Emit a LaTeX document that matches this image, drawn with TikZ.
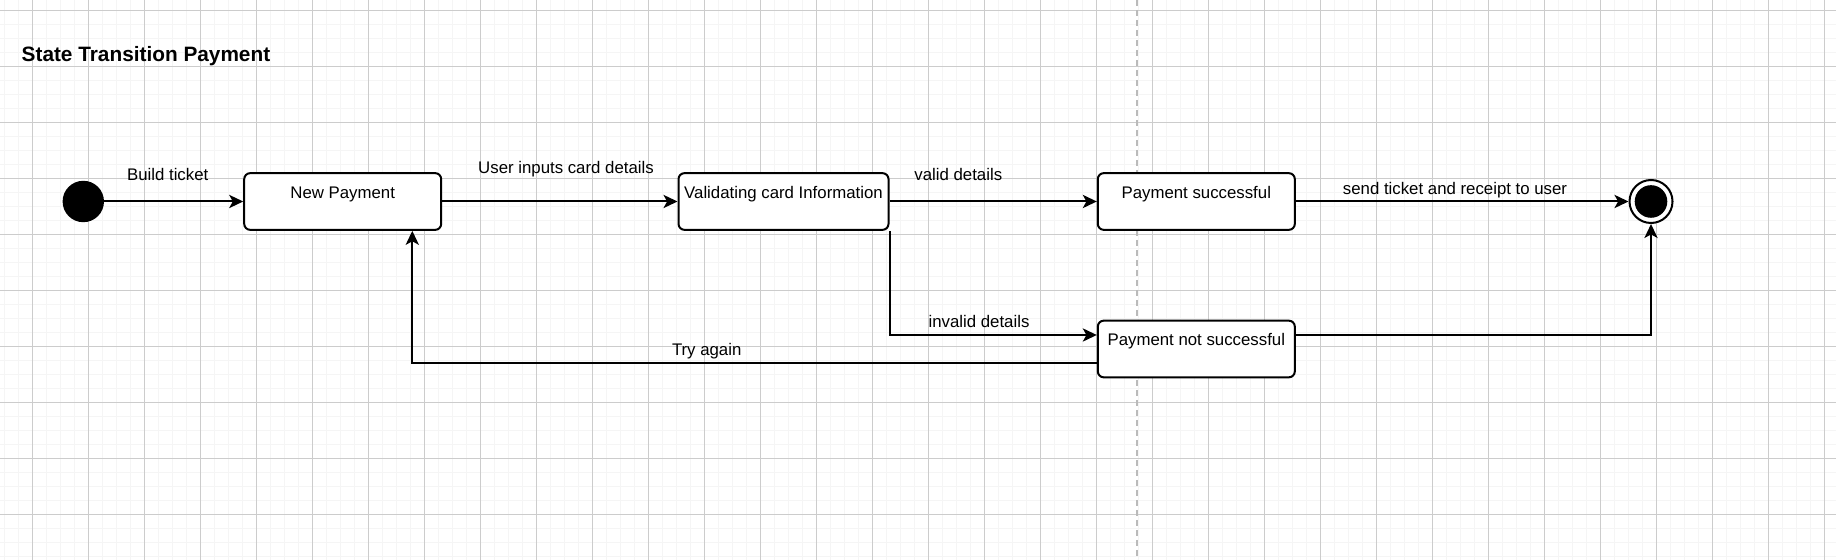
\documentclass[tikz,border=0pt]{standalone}
\usepackage{fontspec}
\setmainfont{Liberation Sans}
\usetikzlibrary{positioning,arrows.meta}

\begin{document}
\begin{tikzpicture}[x=0.5pt, y=-0.5pt,
    minor/.style={draw=black!4, line width=.65pt},
    major/.style={draw=black!20, line width=.55pt},
    st/.style={draw, rounded corners=3pt, line width=1pt, fill=white, minimum width=98.5pt,
      text height=12.5pt, text depth=15.85pt, inner sep=0pt, font=\fontsize{8.4}{10}\selectfont},
    lbl/.style={anchor=base, inner sep=0pt, font=\fontsize{8.4}{10}\selectfont},
    tr/.style={line width=1pt, -{Stealth[length=7pt,width=6.6pt,inset=1.8pt]}}]
    % page and grid
    \fill[white] (0,0) rectangle (1836,560);
    \useasboundingbox (0,0) rectangle (1836,560);
    \foreach \gx in {4.3,18.3,...,1836} \draw[minor] (\gx,0) -- (\gx,560);
    \foreach \gy in {10.7,24.7,...,560} \draw[minor] (0,\gy) -- (1836,\gy);
    \foreach \gx in {32.3,88.3,...,1836} \draw[major] (\gx,0) -- (\gx,560);
    \foreach \gy in {10.7,66.7,...,560} \draw[major] (0,\gy) -- (1836,\gy);
    \draw[black!27, line width=.8pt, dash pattern=on 3pt off 2pt] (1137,0) -- (1137,560);

    \node[anchor=base west, inner sep=0pt, font=\bfseries\fontsize{10.4}{12}\selectfont] (title) at (21.3,62) {State Transition Payment};

    % states
    \node[circle, fill=black, minimum size=20.7pt, inner sep=0pt] (init) at (83.3,201.5) {};
    \node[st] (np) at (342.7,201.5) {New Payment};
    \node[st, minimum width=105pt] (val) at (783.5,201.5) {Validating card Information};
    \node[st] (ps) at (1196.3,201.5) {Payment successful};
    \node[st] (pns) at (1196.3,349) {Payment not successful};
    \node[circle, draw, line width=1pt, fill=white, minimum size=21.5pt, inner sep=0pt] (fin) at (1651,201.5) {};
    \node[circle, fill=black, minimum size=16.3pt, inner sep=0pt] (finDot) at (fin) {};

    % transitions
    \draw[tr] (init) -- (np);
    \draw[tr] (np) -- (val);
    \draw[tr] (val) -- (ps);
    \draw[tr] (ps) -- (fin);
    \draw[tr] (val.south east) |- ([yshift=7pt]pns.west);
    \draw[tr] ([yshift=-7pt]pns.west) -| ([xshift=34.8pt]np.south);
    \draw[tr] ([yshift=7pt]pns.east) -| (fin);

    \node[lbl] (lbBuild) at (167.7,180.3) {Build ticket};
    \node[lbl] (lbInputs) at (566,173.3) {User inputs card details};
    \node[lbl] (lbValid) at (958.3,180.3) {valid details};
    \node[lbl] (lbSend) at (1455,194.3) {send ticket and receipt to user};
    \node[lbl] (lbInvalid) at (979,327.7) {invalid details};
    \node[lbl] (lbAgain) at (706.7,355.3) {Try again};
  \end{tikzpicture}
\end{document}
